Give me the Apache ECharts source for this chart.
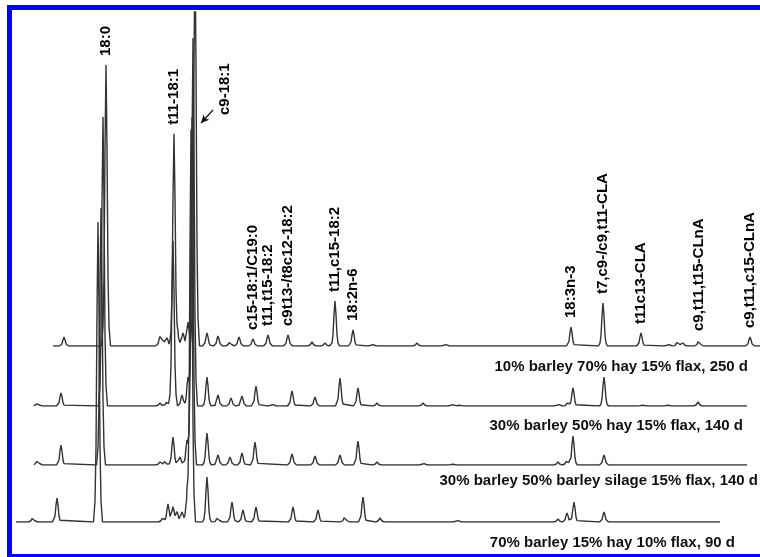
<!DOCTYPE html>
<html><head><meta charset="utf-8">
<script src="https://cdn.jsdelivr.net/npm/echarts@6/dist/echarts.min.js"></script>
<style>html,body{margin:0;padding:0;background:#fff}#c{width:760px;height:557px}</style>
</head><body><div id="c"></div>
<script>
// ---- data (retention position, peak height above baseline) ----
const traceNames = [
  '10% barley 70% hay 15% flax, 250 d',
  '30% barley 50% hay 15% flax, 140 d',
  '30% barley 50% barley silage 15% flax, 140 d',
  '70% barley 15% hay 10% flax, 90 d'
];
const trace1Range = [53, 760];
const trace2Range = [34, 747];
const trace3Range = [34, 747];
const trace4Range = [16, 720];
const trace1Peaks = [[64,9],[106,281],[160,9],[163,6],[167,8],[174,212],[178,10],[183,13],[188,24],[195,400],[207,13],[218,10],[230,5],[239,9],[253,7],[268,11],[288,11],[312,4],[325,3],[335,45],[353,16],[372,2],[417,3],[445,2],[571,19],[603,43],[641,13],[668,2],[678,5],[683,3],[699,6],[750,9]];
const trace2Peaks = [[38,3],[61,13],[103,289],[160,3],[167,5],[173,165],[182,11],[188,29],[193,368],[207,29],[218,11],[231,8],[242,10],[256,20],[272,2],[292,15],[315,9],[340,28],[358,18],[377,3],[423,3],[452,2],[460,1],[558,2],[568,4],[573,18],[604,29],[642,1],[667,1],[698,4]];
const trace3Peaks = [[38,5],[61,20],[101,257],[160,3],[165,4],[173,28],[180,8],[187,25],[192,348],[207,32],[218,10],[230,8],[242,12],[255,23],[292,11],[315,9],[340,10],[358,24],[377,3],[423,2],[452,1],[558,3],[567,5],[573,29],[604,10]];
const trace4Peaks = [[33,5],[57,24],[98,300],[163,5],[168,18],[173,15],[177,10],[182,10],[187,25],[191,392],[207,45],[218,5],[232,20],[243,12],[256,15],[293,15],[318,12],[345,6],[363,25],[380,4],[457,2],[558,3],[567,9],[574,20],[604,10]];
const peakLabelNames = ['18:0','t11-18:1','c15-18:1/C19:0','t11,t15-18:2','c9t13-/t8c12-18:2','t11,c15-18:2','18:2n-6','18:3n-3','t7,c9-/c9,t11-CLA','t11c13-CLA','c9,t11,t15-CLnA','c9,t11,c15-CLnA'];
const peakLabelPositions = [106,174,253,268,288,335,353,571,603,641,699,750];
const arrowLabelName = 'c9-18:1';
const arrowLabelAt = [225, 231];
const arrowFrom = [213, 236];
const arrowTo = [201, 223];

// ---- layout / style ----
const baselines = [346, 406, 465, 522];
const plotTop = 12;
const H = 557;
const peakShape = [[-4.5,0],[-3,0.07],[-2,0.25],[-1,0.7],[0,1],[1,0.7],[2,0.25],[3,0.07],[4.5,0]];
const labelGap = 9;
const labelFontStr = 'bold 15px "Liberation Sans", Arial, sans-serif';

const traces = [
  {peaks: trace1Peaks, range: trace1Range},
  {peaks: trace2Peaks, range: trace2Range},
  {peaks: trace3Peaks, range: trace3Range},
  {peaks: trace4Peaks, range: trace4Range}
];

function valueAt(peaks, x) {
  let s = 0;
  for (const [px, h] of peaks) {
    const d = x - px;
    for (let k = 0; k < peakShape.length - 1; k++) {
      const [a, fa] = peakShape[k], [b, fb] = peakShape[k + 1];
      if (d >= a && d <= b) { s += h * (fa + (fb - fa) * (d - a) / (b - a)); break; }
    }
  }
  return s;
}
function buildLine(t) {
  const xs = new Set([t.range[0], t.range[1]]);
  for (const [px] of t.peaks) for (const [o] of peakShape) {
    const x = px + o;
    if (x >= t.range[0] && x <= t.range[1]) xs.add(x);
  }
  return [...xs].sort((a, b) => a - b).map(x => [x, valueAt(t.peaks, x)]);
}

const grids = [], xAxes = [], yAxes = [], series = [];
baselines.forEach((b, i) => {
  grids.push({left: 0, right: 0, top: plotTop, bottom: H - b});
  xAxes.push({gridIndex: i, type: 'value', min: 0, max: 760, show: false});
  yAxes.push({gridIndex: i, type: 'value', min: 0, max: b - plotTop, show: false});
  series.push({
    type: 'line', xAxisIndex: i, yAxisIndex: i, data: buildLine(traces[i]),
    showSymbol: false, symbol: 'none', silent: true, animation: false,
    lineStyle: {color: '#333', width: 1.4}
  });
});

// arrow to c9-18:1 peak
series.push({
  type: 'scatter', xAxisIndex: 0, yAxisIndex: 0, symbolSize: 0, silent: true, animation: false,
  data: [],
  markLine: {
    silent: true, animation: false, symbol: ['none', 'arrow'], symbolSize: [6, 8],
    label: {show: false}, lineStyle: {color: '#111', width: 1.2, type: 'solid'},
    data: [[{coord: arrowFrom}, {coord: arrowTo}]]
  }
});

const nameRight = [748, 743, 758, 735];
const nameY = [367, 426, 481, 543];
const graphic = traceNames.map((t, i) => ({
  type: 'text', silent: true,
  style: {text: t, x: nameRight[i], y: nameY[i], textAlign: 'right', textVerticalAlign: 'middle',
    font: 'bold 15px "Liberation Sans", Arial, sans-serif', fill: '#111'}
}));
graphic.push({type: 'rect', silent: true, shape: {x: 9.5, y: 7.5, width: 800, height: 549},
  style: {fill: 'none', stroke: '#0000ff', lineWidth: 5}});

const chart = echarts.init(document.getElementById('c'), null, {renderer: 'canvas'});
chart.setOption({animation: false, grid: grids, xAxis: xAxes, yAxis: yAxes, series: series, graphic: graphic});

// rotated peak labels, placed through the top trace's scales
const labelItems = peakLabelNames.map((n, i) => {
  const x = peakLabelPositions[i];
  return [n, [x, valueAt(trace1Peaks, x) + labelGap]];
});
labelItems.push([arrowLabelName, arrowLabelAt]);
labelItems.forEach(([n, v]) => {
  const p = chart.convertToPixel({xAxisIndex: 0, yAxisIndex: 0}, v);
  graphic.push({type: 'text', silent: true, x: p[0], y: p[1], rotation: Math.PI / 2,
    style: {text: n, x: 0, y: 0, textAlign: 'left', textVerticalAlign: 'middle', font: labelFontStr, fill: '#000'}});
});
chart.setOption({graphic: graphic}, {replaceMerge: ['graphic']});
</script></body></html>
